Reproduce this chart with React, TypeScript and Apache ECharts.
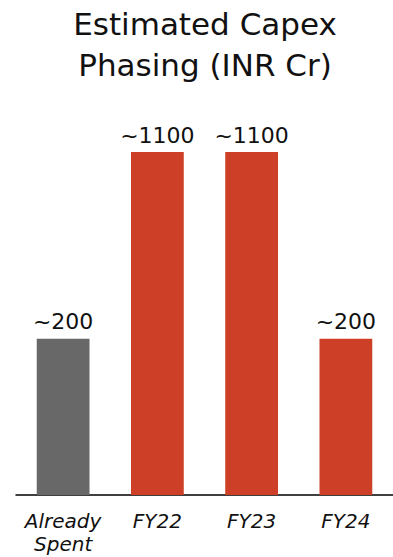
import React, { useEffect, useRef } from "react";
import * as echarts from "echarts";

const categories = ["Already\nSpent", "FY22", "FY23", "FY24"];
const values = [200, 1100, 1100, 200];
const valueLabels = ["~200", "~1100", "~1100", "~200"];
const barColors = ["#686868", "#CD4027", "#CD4027", "#CD4027"];
const titleText = "Estimated Capex\nPhasing (INR Cr)";

export default function App() {
  const ref = useRef<HTMLDivElement>(null);
  useEffect(() => {
    const chart = echarts.init(ref.current!, null, { renderer: "svg" });
    chart.setOption({
      animation: false,
      title: {
        text: titleText,
        left: 200,
        textAlign: "center",
        top: -2,
        textStyle: {
          fontFamily: "DejaVu Sans",
          fontWeight: "normal",
          fontSize: 31,
          lineHeight: 41,
          color: "#111",
        },
      },
      grid: { left: 16, width: 383, top: 152, bottom: 62, containLabel: false },
      xAxis: {
        type: "category",
        data: categories,
        axisLine: { lineStyle: { color: "#000", width: 1.5 } },
        axisTick: { show: false },
        axisLabel: {
          fontFamily: "DejaVu Sans",
          fontStyle: "italic",
          fontSize: 20,
          lineHeight: 23,
          color: "#111",
          margin: 14,
          interval: 0,
        },
      },
      yAxis: {
        type: "log",
        min: 48,
        max: 1100,
        startValue: 48,
        show: false,
        splitLine: { show: false },
      },
      series: [
        {
          type: "bar",
          barWidth: "56%",
          data: values.map((v, i) => ({ value: v, itemStyle: { color: barColors[i] } })),
          label: {
            show: true,
            position: "top",
            distance: 6,
            fontFamily: "DejaVu Sans",
            fontSize: 22,
            color: "#111",
            formatter: (p: any) => valueLabels[p.dataIndex],
          },
        },
      ],
    });
    return () => chart.dispose();
  }, []);
  return (
    <div
      ref={ref}
      style={{ position: "absolute", left: 0, top: 0, width: 393, height: 557 }}
    />
  );
}
